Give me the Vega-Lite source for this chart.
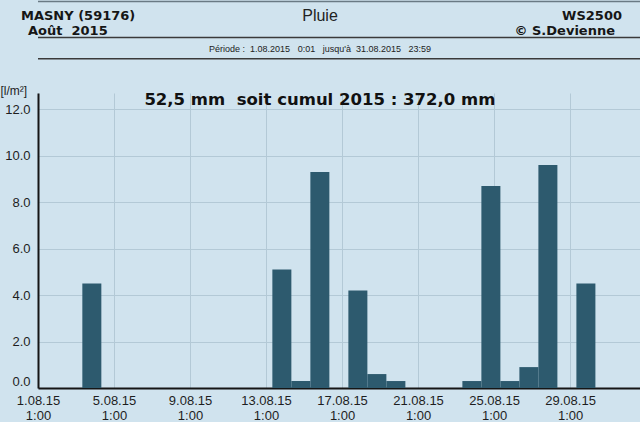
{
  "$schema": "https://vega.github.io/schema/vega-lite/v6.json",
  "background": "#d0e3ee",
  "padding": 0,
  "spacing": 0,
  "config": {"view": {"stroke": null}, "font": "Liberation Sans", "concat": {"spacing": 0}},
  "vconcat": [
    {
      "width": 602,
      "height": 83,
      "data": {"values": [
        {"colonne": "gauche", "ligne": 1, "texte": "MASNY (59176)"},
        {"colonne": "gauche", "ligne": 2, "texte": "Août\u00a0 2015"},
        {"colonne": "centre", "ligne": 1, "texte": "Pluie"},
        {"colonne": "droite", "ligne": 1, "texte": "WS2500"},
        {"colonne": "droite", "ligne": 2, "texte": "© S.Devienne"},
        {"colonne": "centre", "ligne": 3, "texte": "Période :\u00a0 1.08.2015\u00a0\u00a0 0:01\u00a0\u00a0 jusqu'à\u00a0 31.08.2015\u00a0\u00a0 23:59"}
      ]},
      "layer": [
        {
          "transform": [{"filter": "datum.colonne == 'gauche' && datum.ligne == 1"}],
          "mark": {"type": "text", "align": "left", "baseline": "middle", "dx": -17, "font": "DejaVu Sans", "fontWeight": "bold", "fontSize": 13, "color": "#161616"},
          "encoding": {
            "x": {"field": "colonne", "type": "nominal", "scale": {"type": "point", "domain": ["gauche", "centre", "droite"], "padding": 0}, "axis": null},
            "y": {"field": "ligne", "type": "quantitative", "scale": {"domain": [0, 5.03], "reverse": true}, "axis": null},
            "text": {"field": "texte"}
          }
        },
        {
          "transform": [{"filter": "datum.colonne == 'gauche' && datum.ligne == 2"}],
          "mark": {"type": "text", "align": "left", "baseline": "middle", "dx": -10, "font": "DejaVu Sans", "fontWeight": "bold", "fontSize": 13, "color": "#161616"},
          "encoding": {
            "x": {"field": "colonne", "type": "nominal"},
            "y": {"field": "ligne", "type": "quantitative"},
            "text": {"field": "texte"}
          }
        },
        {
          "transform": [{"filter": "datum.colonne == 'droite' && datum.ligne == 1"}],
          "mark": {"type": "text", "align": "right", "baseline": "middle", "dx": -18, "font": "DejaVu Sans", "fontWeight": "bold", "fontSize": 13, "color": "#161616"},
          "encoding": {
            "x": {"field": "colonne", "type": "nominal"},
            "y": {"field": "ligne", "type": "quantitative"},
            "text": {"field": "texte"}
          }
        },
        {
          "transform": [{"filter": "datum.colonne == 'droite' && datum.ligne == 2"}],
          "mark": {"type": "text", "align": "right", "baseline": "middle", "dx": -25, "font": "DejaVu Sans", "fontWeight": "bold", "fontSize": 13, "color": "#161616"},
          "encoding": {
            "x": {"field": "colonne", "type": "nominal"},
            "y": {"field": "ligne", "type": "quantitative"},
            "text": {"field": "texte"}
          }
        },
        {
          "transform": [{"filter": "datum.colonne == 'centre' && datum.ligne == 1"}],
          "mark": {"type": "text", "align": "center", "baseline": "middle", "dx": -19, "font": "Liberation Sans", "fontSize": 16, "color": "#222222"},
          "encoding": {
            "x": {"field": "colonne", "type": "nominal"},
            "y": {"field": "ligne", "type": "quantitative"},
            "text": {"field": "texte"}
          }
        },
        {
          "transform": [{"filter": "datum.ligne == 3"}],
          "mark": {"type": "text", "align": "center", "baseline": "middle", "dx": -19, "dy": 3, "font": "Liberation Sans", "fontSize": 9, "color": "#222222"},
          "encoding": {
            "x": {"field": "colonne", "type": "nominal"},
            "y": {"field": "ligne", "type": "quantitative"},
            "text": {"field": "texte"}
          }
        },
        {
          "transform": [{"filter": "datum.ligne == 3"}],
          "mark": {"type": "rule", "color": "#3a3a3a", "strokeWidth": 1.5},
          "encoding": {"y": {"datum": 2.42}}
        },
        {
          "transform": [{"filter": "datum.ligne == 3"}],
          "mark": {"type": "rule", "color": "#3a3a3a", "strokeWidth": 1.5},
          "encoding": {"y": {"datum": 3.82}}
        },
        {
          "transform": [{"filter": "datum.ligne == 3"}],
          "mark": {"type": "rule", "color": "#6a7a84", "strokeWidth": 1.5},
          "encoding": {"y": {"datum": 0.03}}
        }
      ]
    },
    {
      "width": 602,
      "height": 295,
      "layer": [
        {
          "data": {"values": [
            {"debut": "2015-08-03T09:00", "fin": "2015-08-04T09:00", "pluie": 4.5},
            {"debut": "2015-08-13T09:00", "fin": "2015-08-14T09:00", "pluie": 5.1},
            {"debut": "2015-08-14T09:00", "fin": "2015-08-15T09:00", "pluie": 0.3},
            {"debut": "2015-08-15T09:00", "fin": "2015-08-16T09:00", "pluie": 9.3},
            {"debut": "2015-08-17T09:00", "fin": "2015-08-18T09:00", "pluie": 4.2},
            {"debut": "2015-08-18T09:00", "fin": "2015-08-19T09:00", "pluie": 0.6},
            {"debut": "2015-08-19T09:00", "fin": "2015-08-20T09:00", "pluie": 0.3},
            {"debut": "2015-08-23T09:00", "fin": "2015-08-24T09:00", "pluie": 0.3},
            {"debut": "2015-08-24T09:00", "fin": "2015-08-25T09:00", "pluie": 8.7},
            {"debut": "2015-08-25T09:00", "fin": "2015-08-26T09:00", "pluie": 0.3},
            {"debut": "2015-08-26T09:00", "fin": "2015-08-27T09:00", "pluie": 0.9},
            {"debut": "2015-08-27T09:00", "fin": "2015-08-28T09:00", "pluie": 9.6},
            {"debut": "2015-08-29T09:00", "fin": "2015-08-30T09:00", "pluie": 4.5}
          ]},
          "mark": {"type": "bar", "color": "#2d5a6e"},
          "encoding": {
            "x": {
              "field": "debut", "type": "temporal",
              "scale": {"domain": [{"year": 2015, "month": 8, "date": 1, "hours": 1}, {"year": 2015, "month": 9, "date": 1, "hours": 17, "minutes": 20}]},
              "axis": {
                "title": null,
                "values": [
                  {"year": 2015, "month": 8, "date": 1, "hours": 1},
                  {"year": 2015, "month": 8, "date": 5, "hours": 1},
                  {"year": 2015, "month": 8, "date": 9, "hours": 1},
                  {"year": 2015, "month": 8, "date": 13, "hours": 1},
                  {"year": 2015, "month": 8, "date": 17, "hours": 1},
                  {"year": 2015, "month": 8, "date": 21, "hours": 1},
                  {"year": 2015, "month": 8, "date": 25, "hours": 1},
                  {"year": 2015, "month": 8, "date": 29, "hours": 1}
                ],
                "labelExpr": "[timeFormat(datum.value, '%-d.%m.%y'), timeFormat(datum.value, '%-H:%M')]",
                "labelFont": "Liberation Sans", "labelFontSize": 13, "labelColor": "#1e1e1e",
                "labelPadding": 6, "labelLineHeight": 15, "labelFlush": false, "labelOverlap": false,
                "ticks": false, "grid": true, "gridColor": "#b3c9d6", "gridWidth": 1,
                "domainColor": "#151515", "domainWidth": 2
              }
            },
            "x2": {"field": "fin"},
            "y": {
              "field": "pluie", "type": "quantitative",
              "scale": {"domain": [0, 12.7], "nice": false},
              "axis": {
                "title": "[l/m²]", "titleAngle": 0, "titleAlign": "left", "titleBaseline": "alphabetic",
                "titleX": -38, "titleY": 1, "titleFont": "Liberation Sans", "titleFontSize": 12, "titleFontWeight": "normal", "titleColor": "#1e1e1e",
                "values": [0, 2, 4, 6, 8, 10, 12], "format": ".1f",
                "labelFont": "Liberation Sans", "labelFontSize": 13, "labelColor": "#1e1e1e", "labelPadding": 8,
                "labelFlush": 1, "labelFlushOffset": 0,
                "ticks": false, "grid": true, "gridColor": "#b3c9d6", "gridWidth": 1,
                "domainColor": "#151515", "domainWidth": 2
              }
            },
            "y2": {"datum": 0}
          }
        },
        {
          "data": {"values": [{"texte": "52,5 mm\u00a0 soit cumul 2015 : 372,0 mm"}]},
          "mark": {"type": "text", "align": "center", "baseline": "middle", "font": "DejaVu Sans", "fontWeight": "bold", "fontSize": 16.5, "color": "#111111"},
          "encoding": {
            "x": {"datum": {"year": 2015, "month": 8, "date": 15, "hours": 21}, "type": "temporal"},
            "y": {"datum": 12.42, "type": "quantitative"},
            "text": {"field": "texte"}
          }
        }
      ]
    }
  ]
}
